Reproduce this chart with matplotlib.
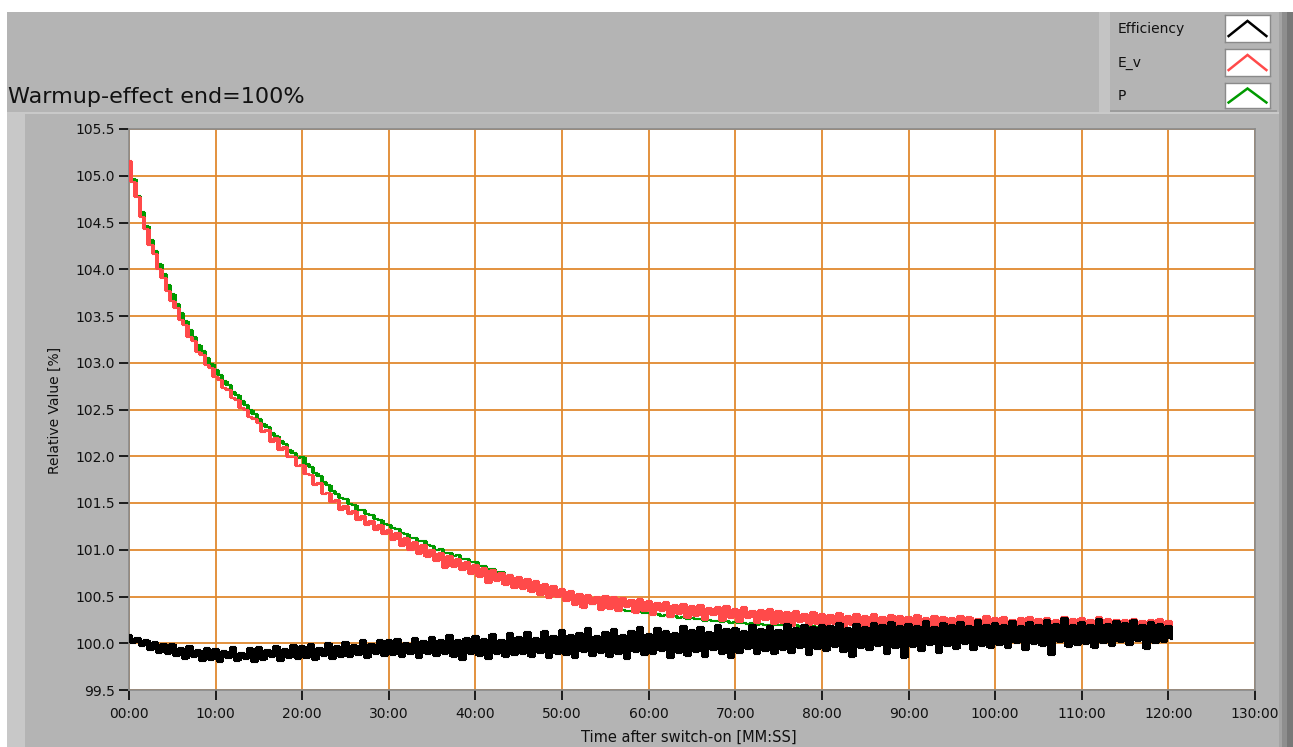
import numpy as np
import matplotlib
matplotlib.use("Agg")
import matplotlib.pyplot as plt
from matplotlib.ticker import MultipleLocator, FuncFormatter
from matplotlib.patches import Rectangle

plt.rcParams["path.simplify"] = False

# ---------------- data (0.5 min sampling) ----------------
minutes = np.arange(0, 121, 0.5)  # 0 .. 120.5 min

efficiency = [
    100.09, 100.00, 100.06, 99.97, 100.03, 99.93, 100.01, 99.90, 99.99, 99.88,
    99.99, 99.86, 99.95, 99.83, 99.97, 99.85, 99.93, 99.81, 99.95, 99.82,
    99.94, 99.80, 99.92, 99.84, 99.96, 99.81, 99.90, 99.83, 99.95, 99.80,
    99.96, 99.82, 99.93, 99.85, 99.97, 99.81, 99.94, 99.84, 99.98, 99.83,
    99.97, 99.84, 99.99, 99.82, 99.95, 99.86, 100.00, 99.83, 99.97, 99.85,
    100.01, 99.85, 99.98, 99.87, 100.03, 99.84, 99.99, 99.88, 100.04, 99.86,
    100.03, 99.87, 100.05, 99.85, 100.00, 99.88, 100.06, 99.84, 100.02, 99.89,
    100.07, 99.86, 100.03, 99.88, 100.09, 99.85, 100.04, 99.82, 100.06, 99.89,
    100.08, 99.86, 100.05, 99.83, 100.10, 99.88, 100.04, 99.85, 100.11, 99.87,
    100.07, 99.88, 100.12, 99.85, 100.06, 99.90, 100.13, 99.84, 100.08, 99.89,
    100.14, 99.87, 100.09, 99.84, 100.11, 99.91, 100.16, 99.86, 100.08, 99.90,
    100.12, 99.85, 100.15, 99.89, 100.09, 99.83, 100.13, 99.91, 100.17, 99.87,
    100.10, 99.88, 100.16, 99.92, 100.13, 99.84, 100.11, 99.90, 100.18, 99.86,
    100.14, 99.91, 100.17, 99.85, 100.12, 99.93, 100.19, 99.89, 100.15, 99.84,
    100.16, 99.90, 100.13, 99.94, 100.20, 99.88, 100.15, 99.92, 100.18, 99.89,
    100.14, 99.93, 100.21, 99.90, 100.16, 99.95, 100.19, 99.87, 100.17, 99.94,
    100.20, 99.92, 100.18, 99.96, 100.22, 99.91, 100.16, 99.85, 100.21, 99.95,
    100.17, 99.93, 100.22, 99.97, 100.19, 99.89, 100.23, 99.95, 100.18, 99.84,
    100.21, 99.96, 100.18, 99.92, 100.24, 99.98, 100.17, 99.90, 100.22, 99.97,
    100.19, 99.94, 100.23, 99.99, 100.18, 99.93, 100.25, 99.97, 100.20, 99.95,
    100.22, 99.98, 100.19, 99.95, 100.24, 100.00, 100.18, 99.93, 100.23, 99.99,
    100.20, 99.97, 100.25, 99.87, 100.21, 100.01, 100.27, 99.96, 100.19, 99.98,
    100.23, 99.99, 100.20, 99.95, 100.26, 100.00, 100.21, 99.97, 100.24, 100.01,
    100.22, 99.98, 100.25, 100.02, 100.20, 99.94, 100.23, 100.00, 100.21, 100.01,
    100.18, 100.05,
]

e_v = [
    105.16, 104.93, 104.77, 104.56, 104.43, 104.26, 104.16, 104.00, 103.91, 103.77,
    103.66, 103.59, 103.46, 103.40, 103.28, 103.23, 103.12, 103.08, 102.98, 102.94,
    102.85, 102.82, 102.73, 102.71, 102.62, 102.60, 102.52, 102.50, 102.42, 102.40,
    102.36, 102.26, 102.28, 102.15, 102.20, 102.07, 102.10, 101.99, 101.99, 101.90,
    101.91, 101.81, 101.80, 101.69, 101.71, 101.60, 101.61, 101.51, 101.53, 101.42,
    101.47, 101.38, 101.41, 101.32, 101.36, 101.26, 101.31, 101.21, 101.26, 101.17,
    101.21, 101.10, 101.18, 101.04, 101.13, 101.00, 101.08, 100.95, 101.05, 100.92,
    101.00, 100.88, 100.97, 100.80, 100.93, 100.82, 100.90, 100.78, 100.87, 100.74,
    100.84, 100.71, 100.81, 100.64, 100.78, 100.67, 100.75, 100.62, 100.73, 100.59,
    100.71, 100.58, 100.69, 100.55, 100.67, 100.52, 100.63, 100.48, 100.61, 100.49,
    100.58, 100.45, 100.56, 100.41, 100.53, 100.38, 100.52, 100.42, 100.50, 100.36,
    100.51, 100.37, 100.49, 100.34, 100.48, 100.39, 100.46, 100.32, 100.47, 100.35,
    100.45, 100.30, 100.43, 100.34, 100.44, 100.28, 100.41, 100.31, 100.42, 100.27,
    100.40, 100.29, 100.41, 100.25, 100.38, 100.30, 100.39, 100.24, 100.40, 100.27,
    100.37, 100.23, 100.39, 100.27, 100.35, 100.22, 100.36, 100.25, 100.37, 100.21,
    100.34, 100.22, 100.33, 100.18, 100.35, 100.23, 100.31, 100.19, 100.33, 100.21,
    100.31, 100.17, 100.30, 100.21, 100.32, 100.16, 100.29, 100.20, 100.31, 100.15,
    100.29, 100.17, 100.31, 100.14, 100.28, 100.19, 100.30, 100.15, 100.29, 100.18,
    100.28, 100.14, 100.30, 100.18, 100.27, 100.13, 100.29, 100.17, 100.28, 100.14,
    100.27, 100.15, 100.29, 100.12, 100.28, 100.16, 100.26, 100.13, 100.29, 100.15,
    100.27, 100.13, 100.28, 100.16, 100.25, 100.12, 100.27, 100.15, 100.28, 100.13,
    100.26, 100.14, 100.27, 100.11, 100.25, 100.15, 100.28, 100.13, 100.26, 100.12,
    100.27, 100.12, 100.25, 100.14, 100.28, 100.11, 100.26, 100.13, 100.25, 100.12,
    100.25, 100.13, 100.26, 100.11, 100.24, 100.14, 100.25, 100.12, 100.26, 100.13,
    100.24, 100.16,
]

p = [
    105.14, 104.96, 104.78, 104.61, 104.46, 104.31, 104.19, 104.06, 103.95, 103.83,
    103.73, 103.63, 103.53, 103.45, 103.35, 103.28, 103.19, 103.13, 103.05, 102.99,
    102.92, 102.87, 102.80, 102.76, 102.69, 102.65, 102.59, 102.55, 102.49, 102.45,
    102.40, 102.34, 102.31, 102.25, 102.22, 102.16, 102.13, 102.07, 102.04, 101.98,
    101.99, 101.92, 101.89, 101.82, 101.79, 101.72, 101.69, 101.63, 101.60, 101.55,
    101.54, 101.49, 101.48, 101.43, 101.42, 101.38, 101.37, 101.33, 101.32, 101.28,
    101.27, 101.23, 101.22, 101.18, 101.17, 101.13, 101.13, 101.09, 101.09, 101.05,
    101.04, 101.00, 101.01, 100.97, 100.97, 100.93, 100.94, 100.90, 100.90, 100.87,
    100.87, 100.83, 100.83, 100.79, 100.79, 100.76, 100.76, 100.72, 100.73, 100.69,
    100.70, 100.67, 100.67, 100.64, 100.64, 100.60, 100.61, 100.58, 100.58, 100.55,
    100.55, 100.51, 100.51, 100.47, 100.48, 100.44, 100.45, 100.42, 100.43, 100.40,
    100.40, 100.38, 100.38, 100.36, 100.36, 100.35, 100.35, 100.33, 100.34, 100.32,
    100.32, 100.31, 100.31, 100.29, 100.30, 100.28, 100.29, 100.27, 100.28, 100.26,
    100.27, 100.26, 100.26, 100.24, 100.25, 100.24, 100.24, 100.23, 100.24, 100.22,
    100.23, 100.22, 100.22, 100.21, 100.22, 100.20, 100.21, 100.20, 100.20, 100.19,
    100.20, 100.19, 100.19, 100.18, 100.19, 100.17, 100.18, 100.17, 100.18, 100.16,
    100.17, 100.16, 100.17, 100.15, 100.16, 100.15, 100.16, 100.14, 100.16, 100.14,
    100.15, 100.14, 100.15, 100.13, 100.15, 100.13, 100.14, 100.12, 100.14, 100.13,
    100.14, 100.12, 100.14, 100.11, 100.13, 100.12, 100.14, 100.11, 100.13, 100.12,
    100.13, 100.11, 100.14, 100.12, 100.13, 100.10, 100.13, 100.12, 100.14, 100.11,
    100.13, 100.11, 100.12, 100.10, 100.13, 100.11, 100.12, 100.10, 100.13, 100.11,
    100.12, 100.10, 100.13, 100.11, 100.12, 100.10, 100.13, 100.11, 100.12, 100.10,
    100.12, 100.10, 100.12, 100.11, 100.13, 100.10, 100.12, 100.11, 100.12, 100.10,
    100.12, 100.10, 100.13, 100.11, 100.12, 100.10, 100.12, 100.10, 100.11, 100.10,
    100.11, 100.10,
]

series_names = ["Efficiency", "E_v", "P"]
series_values = [efficiency, e_v, p]
series_colors = ["#000000", "#ff4a4a", "#009a00"]

title_text = "Warmup-effect end=100%"
x_label = "Time after switch-on [MM:SS]"
y_label = "Relative Value [%]"

# ---------------- figure ----------------
W, H = 1293, 747
GRAY = "#b4b4b4"
fig = plt.figure(figsize=(W / 100, H / 100), dpi=100, facecolor=GRAY)


def fx(px):
    return px / W


def fy(py):
    return 1 - py / H


def frect(x0, y0, x1, y1, color, z=-5):
    fig.patches.append(Rectangle((fx(x0), fy(y1)), fx(x1 - x0), (y1 - y0) / H,
                                 transform=fig.transFigure, facecolor=color,
                                 edgecolor="none", zorder=z))


# panel decorations
frect(0, 0, W, 12, "white")
frect(0, 0, 7, H, "white")
frect(7, 113, 25, H, "#c8c8c8")
frect(7, 112, 1280, 114, "#c9c9c9")
frect(1279, 12, 1282, H, "#a4a4a4")
frect(1282, 12, 1287, H, "#8e8e8e")
frect(1287, 12, 1293, H, "#787878")
# legend panel
frect(1099, 12, 1110, 112, "#c4c4c4")
frect(1110, 110, 1277, 112, "#9c9c9c")

# main axes
ax = fig.add_axes([fx(129), (H - 690) / H, fx(1255 - 129), (690 - 129) / H])
ax.set_facecolor("white")

# draw order: P, E_v, Efficiency (black on top)
z = 3
for name, vals, col in reversed(list(zip(series_names, series_values, series_colors))):
    v = np.asarray(vals)
    # fill the span between consecutive samples (dense-trace look)
    lo = np.append(np.minimum(v[:-1], v[1:]), v[-1])
    hi = np.append(np.maximum(v[:-1], v[1:]), v[-1])
    ax.fill_between(minutes, lo, hi, step="post", color=col, lw=0, zorder=z)
    ax.plot(minutes, v, color=col, lw=1.5, drawstyle="steps-mid",
            solid_joinstyle="miter", solid_capstyle="butt", label=name, zorder=z + 0.5)
    z += 1

ax.set_xlim(0, 130)
ax.set_ylim(99.5, 105.5)
ax.xaxis.set_major_locator(MultipleLocator(10))
ax.yaxis.set_major_locator(MultipleLocator(0.5))
ax.xaxis.set_major_formatter(FuncFormatter(lambda v, pos: f"{int(round(v)):02d}:00"))
ax.yaxis.set_major_formatter(FuncFormatter(lambda v, pos: f"{v:.1f}"))
ax.grid(True, color="#e0892f", lw=1.3, zorder=1)
ax.set_axisbelow(True)
ax.tick_params(direction="out", length=7, width=1.2, color="black",
               labelsize=10, pad=3, labelcolor="#111111")
ax.tick_params(axis="x", pad=5)
for s in ax.spines.values():
    s.set_color("#8a8a8a")
    s.set_linewidth(1.2)

# texts
fig.text(fx(8), fy(97), title_text, fontsize=16, ha="left", va="center", color="#111111")
fig.text(fx(55), fy(410), y_label, fontsize=10, rotation=90, ha="center", va="center",
         color="#111111")
fig.text(fx(689), fy(737), x_label, fontsize=10.5, ha="center", va="center",
         color="#111111")

# legend rows
legend_rows_y = [(15, 42), (49, 76), (83, 108)]
for (y0, y1), name, col in zip(legend_rows_y, series_names, series_colors):
    fig.text(fx(1118), fy((y0 + y1) / 2), name, fontsize=10, ha="left", va="center",
             color="#111111")
    sw = fig.add_axes([fx(1225), fy(y1), fx(45), (y1 - y0) / H])
    sw.set_facecolor("white")
    sw.plot([0.08, 0.5, 0.92], [0.22, 0.78, 0.22], color=col, lw=1.8,
            solid_joinstyle="miter")
    sw.set_xlim(0, 1)
    sw.set_ylim(0, 1)
    sw.set_xticks([])
    sw.set_yticks([])
    for s in sw.spines.values():
        s.set_color("#8a8a8a")
        s.set_linewidth(1.0)

fig.savefig("out.png", dpi=100, facecolor=GRAY)
